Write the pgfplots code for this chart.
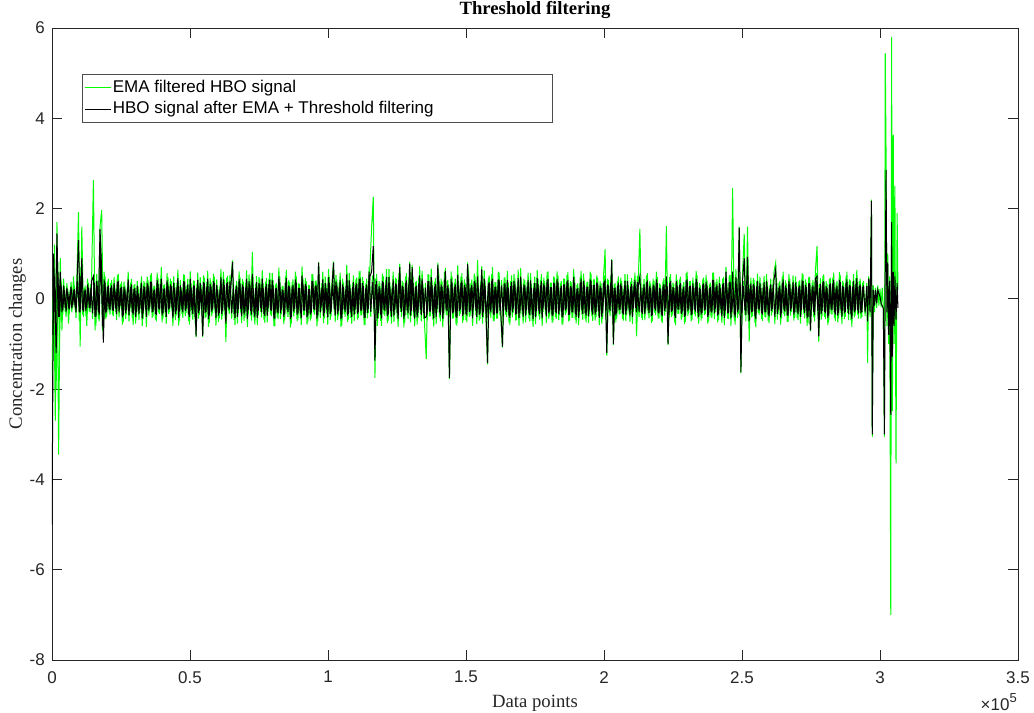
\documentclass[border=0pt]{standalone}
\usepackage{pgfplots}
\usepackage{pgfplotstable}
\pgfplotsset{compat=1.18}
\usepackage{fontspec}
\setmainfont{Liberation Sans}
\newfontfamily\seriffont{Liberation Serif}
\definecolor{mgreen}{rgb}{0,1,0}
\definecolor{axgray}{rgb}{0.15,0.15,0.15}

\pgfplotstableread{
g b
-1.70 -5.00
0.60 1.00
-2.70 -0.60
1.70 1.45
-3.45 -0.40
0.90 0.60
-0.70 -0.30
0.45 0.30
-0.30 -0.20
0.35 0.25
-0.55 -0.15
0.20 0.14
-0.30 -0.21
0.50 0.20
-0.25 -0.18
0.40 0.28
1.92 1.30
-1.06 -0.30
1.60 0.90
-0.40 -0.28
0.30 0.21
-0.60 -0.20
0.35 0.25
-0.30 -0.21
0.60 0.40
2.63 0.50
-0.70 -0.40
0.55 0.40
-0.45 -0.30
1.60 1.55
1.97 0.60
-0.80 -0.97
0.50 0.36
-0.40 -0.28
0.45 0.30
-0.35 -0.25
0.42 0.30
-0.38 -0.27
0.25 0.18
-0.47 -0.34
0.55 0.40
-0.22 -0.16
0.38 0.27
-0.52 -0.37
0.30 0.22
-0.35 -0.25
0.60 0.43
-0.28 -0.20
0.44 0.32
-0.58 -0.35
0.33 0.24
-0.41 -0.30
0.27 0.12
-0.30 -0.22
0.50 0.36
-0.45 -0.32
0.36 0.26
-0.62 -0.40
0.41 0.30
-0.25 -0.18
0.57 0.38
-0.39 -0.28
0.29 0.21
-0.50 -0.36
0.46 0.33
-0.33 -0.24
0.70 0.45
-0.44 -0.32
0.32 0.23
-0.55 -0.40
0.48 0.30
-0.29 -0.21
0.39 0.28
-0.60 -0.43
0.35 0.25
-0.37 -0.27
0.64 0.46
-0.48 -0.28
0.26 0.19
-0.42 -0.30
0.53 0.38
-0.31 -0.22
0.45 0.32
-0.57 -0.40
0.34 0.24
-0.46 -0.33
0.40 0.29
-0.85 -0.83
0.58 0.42
-0.36 -0.26
0.31 0.22
-0.84 -0.82
0.47 0.34
-0.40 -0.29
0.62 0.45
-0.53 -0.37
0.37 0.27
-0.32 -0.23
0.49 0.35
-0.59 -0.42
0.28 0.20
-0.43 -0.31
0.66 0.48
-0.38 -0.27
0.43 0.31
-0.95 -0.55
0.51 0.37
-0.34 -0.24
0.36 0.26
0.85 0.82
-0.47 -0.34
0.30 0.22
-0.55 -0.40
0.61 0.44
-0.30 -0.22
0.44 0.32
-0.49 -0.35
0.35 0.25
-0.62 -0.45
0.54 0.39
-0.37 -0.27
1.04 0.55
-0.43 -0.31
0.33 0.24
-0.58 -0.42
0.48 0.35
-0.28 -0.20
0.63 0.45
-0.46 -0.33
0.38 0.27
-0.52 -0.37
0.45 0.32
-0.35 -0.25
0.57 0.41
-0.60 -0.43
0.32 0.23
-0.41 -0.30
0.69 0.50
-0.45 -0.32
0.29 0.21
-0.56 -0.40
0.50 0.36
-0.33 -0.24
0.42 0.30
-0.63 -0.45
0.37 0.27
-0.39 -0.28
0.60 0.43
-0.50 -0.36
0.34 0.24
-0.44 -0.32
0.72 0.52
-0.36 -0.26
0.46 0.33
-0.57 -0.41
0.31 0.22
-0.48 -0.35
0.55 0.40
-0.30 -0.22
0.40 0.29
-0.61 -0.44
0.82 0.80
-0.42 -0.30
0.35 0.25
-0.54 -0.39
0.49 0.35
-0.34 -0.24
0.66 0.48
-0.47 -0.34
0.30 0.22
0.83 0.80
-0.51 -0.37
0.43 0.31
-0.37 -0.27
0.58 0.42
-0.59 -0.42
0.36 0.26
-0.40 -0.29
0.75 0.54
-0.46 -0.33
0.32 0.23
-0.55 -0.40
0.52 0.37
-0.33 -0.24
0.47 0.34
-0.42 -0.30
0.62 0.45
-0.36 -0.26
0.39 0.28
-0.58 -0.42
0.45 0.32
-0.31 -0.22
0.70 0.50
1.57 0.60
2.26 1.17
-1.75 -1.37
0.55 0.40
-0.44 -0.32
0.34 0.24
-0.60 -0.43
0.51 0.37
-0.38 -0.27
0.66 0.48
-0.49 -0.35
0.37 0.27
-0.55 -0.40
0.60 0.43
-0.33 -0.24
0.44 0.32
-0.62 -0.45
0.78 0.70
-0.40 -0.29
0.36 0.26
-0.52 -0.37
0.57 0.41
-0.45 -0.32
0.82 0.78
-0.37 -0.27
0.48 0.35
-0.61 -0.44
0.40 0.29
-0.43 -0.31
0.72 0.52
-0.50 -0.36
0.33 0.24
-0.58 -0.42
-1.33 -0.40
0.54 0.39
-0.39 -0.28
0.67 0.48
-0.46 -0.33
0.38 0.27
-0.56 -0.40
0.80 0.76
-0.41 -0.30
0.45 0.32
-0.63 -0.45
0.59 0.42
-0.35 -0.25
0.42 0.30
-1.78 -1.75
0.61 0.44
-0.44 -0.32
0.36 0.26
-0.57 -0.41
0.74 0.53
-0.38 -0.27
0.50 0.36
-0.53 -0.38
0.43 0.31
-0.47 -0.34
0.81 0.77
-0.40 -0.29
0.35 0.25
-0.60 -0.43
0.56 0.40
-0.36 -0.26
0.86 0.50
-0.48 -0.35
0.41 0.30
-0.55 -0.40
0.63 0.45
-0.34 -0.24
-1.45 -1.42
0.52 0.37
-0.42 -0.30
0.70 0.45
-0.50 -0.36
0.37 0.27
-0.44 -0.32
0.58 0.42
-0.39 -0.28
-1.08 -1.06
0.46 0.33
-0.35 -0.25
0.62 0.42
-0.54 -0.39
0.39 0.28
-0.41 -0.30
0.55 0.40
-0.48 -0.35
0.33 0.24
-0.59 -0.42
0.68 0.49
-0.37 -0.27
0.44 0.32
-0.52 -0.37
0.38 0.27
-0.43 -0.31
0.57 0.41
-0.49 -0.35
0.35 0.25
-0.56 -0.40
0.64 0.46
-0.38 -0.27
0.42 0.30
-0.60 -0.43
0.47 0.34
-0.34 -0.24
0.59 0.42
-0.45 -0.32
0.36 0.26
-0.53 -0.38
0.50 0.36
-0.40 -0.29
0.61 0.44
-0.47 -0.34
0.34 0.24
-0.57 -0.41
0.45 0.32
-0.36 -0.26
0.53 0.38
-0.50 -0.36
0.39 0.28
-0.42 -0.30
0.66 0.48
-0.46 -0.33
0.31 0.22
-0.58 -0.42
0.48 0.35
-0.35 -0.25
0.56 0.40
-0.44 -0.32
0.37 0.27
-0.54 -0.39
0.60 0.43
-0.39 -0.28
0.43 0.31
-0.48 -0.35
0.52 0.37
-0.37 -0.27
0.40 0.29
-0.55 -0.40
0.46 0.33
1.10 0.40
-1.26 -1.20
0.42 0.30
-0.38 -0.27
0.88 0.86
-1.02 -1.00
0.35 0.25
-0.44 -0.32
0.50 0.36
-0.33 -0.24
0.39 0.28
-0.48 -0.35
0.55 0.40
-0.36 -0.26
0.31 0.22
-0.51 -0.37
0.46 0.33
-0.29 -0.21
0.58 0.42
-0.83 -0.30
0.37 0.27
1.55 0.50
-0.42 -0.30
0.33 0.24
-0.47 -0.34
0.52 0.37
-0.35 -0.25
0.40 0.29
-0.53 -0.38
0.45 0.32
-0.31 -0.22
0.60 0.43
-0.44 -0.32
0.34 0.24
-0.49 -0.35
0.41 0.30
-0.37 -0.27
1.61 0.50
-1.02 -1.00
0.48 0.35
-0.40 -0.29
0.36 0.26
-0.52 -0.37
0.54 0.39
-0.33 -0.24
0.43 0.31
-0.46 -0.33
0.30 0.22
-0.56 -0.40
0.57 0.41
-0.38 -0.27
0.39 0.28
-0.50 -0.36
0.47 0.34
-0.34 -0.24
0.62 0.45
-0.43 -0.31
0.35 0.25
-0.48 -0.35
0.44 0.32
-0.36 -0.26
0.53 0.38
-0.55 -0.40
0.32 0.23
-0.41 -0.30
0.58 0.42
-0.45 -0.32
0.38 0.27
-0.52 -0.37
0.49 0.35
-0.32 -0.23
0.45 0.32
-0.58 -0.42
0.70 0.60
-0.44 -0.32
0.52 0.37
-0.60 -0.43
2.45 0.60
-0.48 -0.35
0.66 0.48
-0.42 -0.30
1.60 1.57
-1.65 -1.63
0.55 0.40
1.44 0.90
-0.50 -0.36
1.60 0.93
-0.95 -0.50
0.47 0.34
-0.39 -0.28
0.42 0.30
-0.63 -0.45
0.56 0.40
-0.36 -0.26
0.34 0.24
-0.49 -0.35
0.51 0.37
-0.41 -0.30
0.37 0.27
-0.54 -0.39
0.44 0.32
-0.30 -0.22
0.60 0.43
0.80 0.65
-0.46 -0.33
0.35 0.25
-0.57 -0.41
0.48 0.35
-0.33 -0.24
0.41 0.30
-0.51 -0.37
0.55 0.40
-0.37 -0.27
0.31 0.22
-0.48 -0.35
0.50 0.36
-0.42 -0.30
0.38 0.27
-0.55 -0.40
0.57 0.41
-0.34 -0.24
0.43 0.31
-0.60 -0.43
0.49 0.35
-0.72 -0.70
0.36 0.26
-0.40 -0.29
0.62 0.45
1.17 0.50
-0.95 -0.83
0.46 0.33
-0.38 -0.27
0.54 0.39
-0.45 -0.32
0.33 0.24
-0.52 -0.37
0.47 0.34
-0.35 -0.25
0.58 0.42
-0.49 -0.35
0.40 0.29
-0.43 -0.31
0.52 0.37
-0.56 -0.40
0.36 0.26
-0.40 -0.29
0.60 0.43
-0.47 -0.34
0.42 0.30
-0.62 -0.45
0.55 0.40
-0.37 -0.27
0.64 0.46
-0.44 -0.32
0.45 0.32
-0.40 -0.29
}\mainband

\pgfplotstableread{
g b
-1.20 -0.80
1.20 0.50
-2.00 -1.20
0.80 0.60
-0.90 -0.40
0.40 0.30
-0.35 -0.25
0.28 0.20
-0.40 -0.28
0.22 0.16
-0.32 -0.23
0.38 0.27
-0.20 -0.14
0.30 0.22
-0.42 -0.30
0.55 0.40
-0.50 -0.30
0.70 0.50
-0.35 -0.25
0.25 0.18
-0.38 -0.27
0.45 0.32
-0.28 -0.20
0.33 0.24
-0.45 -0.32
0.50 0.36
-0.60 -0.40
0.40 0.29
-0.50 -0.36
1.20 1.00
-0.70 -0.60
0.60 0.43
-0.45 -0.32
0.38 0.27
-0.30 -0.22
0.35 0.25
-0.35 -0.25
0.48 0.35
-0.29 -0.21
0.52 0.37
-0.41 -0.30
0.33 0.24
-0.57 -0.41
0.38 0.27
-0.45 -0.32
0.27 0.19
-0.50 -0.36
0.36 0.26
-0.43 -0.31
0.31 0.22
-0.55 -0.40
0.40 0.29
-0.47 -0.34
0.34 0.24
-0.60 -0.43
0.39 0.28
-0.30 -0.22
0.49 0.35
-0.37 -0.27
0.53 0.38
-0.42 -0.30
0.28 0.20
-0.46 -0.33
0.58 0.42
-0.32 -0.23
0.44 0.32
-0.52 -0.37
0.31 0.22
-0.40 -0.29
0.57 0.41
-0.34 -0.24
0.45 0.32
-0.28 -0.20
0.50 0.36
-0.47 -0.34
0.36 0.26
-0.59 -0.42
0.42 0.30
-0.33 -0.24
0.54 0.39
-0.38 -0.27
0.29 0.21
-0.49 -0.35
0.61 0.44
-0.35 -0.25
0.41 0.30
-0.56 -0.40
0.33 0.24
-0.44 -0.32
0.48 0.35
-0.30 -0.22
0.52 0.37
-0.43 -0.31
0.37 0.27
-0.62 -0.45
0.46 0.33
-0.39 -0.28
0.56 0.40
-0.32 -0.23
0.43 0.31
-0.51 -0.37
0.30 0.22
-0.46 -0.33
0.60 0.43
-0.36 -0.26
0.47 0.34
-0.27 -0.19
0.53 0.38
-0.44 -0.32
0.35 0.25
-0.58 -0.42
0.40 0.29
-0.31 -0.22
0.49 0.35
-0.54 -0.39
0.38 0.27
-0.42 -0.30
0.63 0.45
-0.34 -0.24
0.44 0.32
-0.48 -0.35
0.32 0.23
-0.57 -0.41
0.51 0.37
-0.37 -0.27
0.45 0.32
-0.41 -0.30
0.34 0.24
-0.53 -0.38
0.46 0.33
-0.29 -0.21
0.58 0.42
-0.38 -0.27
0.42 0.30
-0.61 -0.44
0.35 0.25
-0.45 -0.32
0.51 0.37
-0.33 -0.24
0.28 0.20
-0.48 -0.35
0.64 0.46
-0.40 -0.29
0.37 0.27
-0.55 -0.40
0.43 0.31
-0.31 -0.22
0.50 0.36
-0.46 -0.33
0.33 0.24
-0.58 -0.42
0.47 0.34
-0.36 -0.26
0.40 0.29
-0.52 -0.37
0.30 0.22
-0.44 -0.32
0.55 0.40
-0.35 -0.25
0.41 0.30
-0.50 -0.36
0.36 0.26
-0.27 -0.19
0.60 0.43
-0.43 -0.31
0.32 0.23
-0.57 -0.41
0.48 0.35
-0.39 -0.28
0.44 0.32
-0.30 -0.22
0.53 0.38
-0.47 -0.34
0.38 0.27
-0.62 -0.45
0.45 0.32
-0.34 -0.24
0.29 0.21
-0.51 -0.37
0.57 0.41
-0.42 -0.30
0.36 0.26
-0.49 -0.35
0.43 0.31
-0.46 -0.33
0.61 0.44
-0.37 -0.27
0.48 0.35
-0.58 -0.42
0.34 0.24
-0.43 -0.31
0.70 0.60
-0.40 -0.29
0.52 0.37
-0.31 -0.22
0.45 0.32
-0.60 -0.43
0.39 0.28
-0.49 -0.35
0.56 0.40
-0.35 -0.25
0.42 0.30
-0.54 -0.39
0.66 0.48
-0.38 -0.27
0.33 0.24
-0.51 -0.37
0.47 0.34
-0.44 -0.32
0.58 0.42
-0.29 -0.21
0.40 0.29
-0.63 -0.45
0.50 0.36
-0.36 -0.26
0.44 0.32
-0.52 -0.37
0.75 0.70
-0.41 -0.30
0.37 0.27
-0.57 -0.41
0.49 0.35
-0.33 -0.24
0.62 0.45
-0.45 -0.32
0.35 0.25
-0.48 -0.35
0.54 0.39
-0.39 -0.28
0.41 0.30
-0.61 -0.44
0.46 0.33
-0.30 -0.22
0.59 0.42
-0.50 -0.36
0.38 0.27
-0.43 -0.31
0.68 0.62
-0.37 -0.27
0.32 0.23
-0.55 -0.40
0.51 0.37
-0.42 -0.30
0.45 0.32
-0.59 -0.42
0.40 0.29
-0.34 -0.24
0.57 0.41
-0.47 -0.34
0.36 0.26
-0.52 -0.37
0.63 0.45
-0.38 -0.27
0.43 0.31
-0.28 -0.20
0.50 0.36
-0.56 -0.40
0.34 0.24
-0.45 -0.32
0.72 0.65
-0.41 -0.30
0.39 0.28
-0.60 -0.43
0.47 0.34
-0.33 -0.24
0.55 0.40
-0.49 -0.35
0.37 0.27
-0.44 -0.32
0.60 0.43
-0.36 -0.26
0.42 0.30
-0.53 -0.38
0.48 0.35
-0.40 -0.29
0.35 0.25
-0.58 -0.42
0.52 0.37
-0.31 -0.22
0.46 0.33
-0.47 -0.34
0.64 0.46
-0.43 -0.31
0.38 0.27
-0.55 -0.40
0.41 0.30
-0.35 -0.25
0.58 0.42
-0.50 -0.36
0.33 0.24
-0.62 -0.45
0.49 0.35
-0.38 -0.27
0.44 0.32
-0.46 -0.33
0.55 0.40
-0.29 -0.21
0.40 0.29
-0.54 -0.39
0.61 0.44
-0.39 -0.28
0.36 0.26
-0.51 -0.37
0.47 0.34
-0.44 -0.32
0.53 0.38
-0.36 -0.26
0.40 0.29
-0.57 -0.41
0.45 0.32
-0.32 -0.23
0.59 0.42
-0.48 -0.35
0.37 0.27
-0.42 -0.30
0.50 0.36
-0.55 -0.40
0.34 0.24
-0.39 -0.28
0.62 0.45
-0.46 -0.33
0.41 0.30
-0.52 -0.37
0.38 0.27
-0.34 -0.24
0.56 0.40
-0.49 -0.35
0.43 0.31
-0.40 -0.29
0.47 0.34
-0.58 -0.42
0.35 0.25
-0.45 -0.32
0.52 0.37
-0.38 -0.27
0.45 0.32
-0.30 -0.22
0.50 0.36
-0.42 -0.30
0.33 0.24
-0.52 -0.37
0.40 0.29
-0.35 -0.25
0.47 0.34
-0.45 -0.32
0.29 0.21
-0.49 -0.35
0.54 0.39
-0.33 -0.24
0.38 0.27
-0.56 -0.40
0.43 0.31
-0.28 -0.20
0.51 0.37
-0.40 -0.29
0.36 0.26
-0.47 -0.34
0.44 0.32
-0.31 -0.22
0.57 0.41
-0.43 -0.31
0.34 0.24
-0.50 -0.36
0.41 0.30
-0.36 -0.26
0.48 0.35
-0.44 -0.32
0.31 0.22
-0.53 -0.38
0.46 0.33
-0.29 -0.21
0.39 0.28
-0.48 -0.35
0.55 0.40
-0.37 -0.27
0.33 0.24
-0.58 -0.42
0.42 0.30
-0.34 -0.24
0.49 0.35
-0.41 -0.30
0.37 0.27
-0.51 -0.37
0.60 0.43
-0.32 -0.23
0.40 0.29
-0.46 -0.33
0.35 0.25
-0.39 -0.28
0.52 0.37
-0.55 -0.40
0.30 0.22
-0.43 -0.31
0.47 0.34
-0.34 -0.24
0.41 0.30
-0.50 -0.36
0.36 0.26
-0.42 -0.30
0.58 0.42
-0.30 -0.22
0.44 0.32
-0.47 -0.34
0.33 0.24
-0.54 -0.39
0.48 0.35
-0.38 -0.27
0.35 0.25
-0.45 -0.32
0.53 0.38
-0.40 -0.29
0.29 0.21
-0.57 -0.41
0.45 0.32
-0.33 -0.24
0.50 0.36
-0.44 -0.32
0.39 0.28
-0.36 -0.26
0.56 0.40
-0.49 -0.35
0.32 0.23
-0.41 -0.30
0.46 0.33
-0.53 -0.38
0.38 0.27
-0.31 -0.22
0.49 0.35
-0.45 -0.32
0.35 0.25
-0.40 -0.29
0.55 0.40
-0.48 -0.35
0.30 0.22
-0.37 -0.27
0.43 0.31
-0.56 -0.40
0.47 0.34
-0.33 -0.24
0.40 0.29
-0.44 -0.32
0.60 0.43
-0.39 -0.28
0.34 0.24
-0.51 -0.37
0.45 0.32
-0.29 -0.21
0.52 0.37
-0.42 -0.30
0.37 0.27
-0.47 -0.34
0.41 0.30
-0.35 -0.25
0.54 0.39
-0.43 -0.31
0.36 0.26
-0.55 -0.40
0.48 0.35
-0.32 -0.23
0.42 0.30
-0.50 -0.36
0.57 0.41
-0.37 -0.27
0.33 0.24
-0.46 -0.33
0.51 0.37
-0.40 -0.29
0.39 0.28
-0.58 -0.42
0.44 0.32
-0.34 -0.24
0.47 0.34
-0.42 -0.30
0.35 0.25
-0.52 -0.37
0.59 0.42
-0.36 -0.26
0.40 0.29
-0.45 -0.32
0.50 0.36
-0.31 -0.22
0.43 0.31
-0.48 -0.35
0.38 0.27
-0.41 -0.30
0.46 0.33
-0.35 -0.25
0.40 0.29
-0.44 -0.32
0.36 0.26
}\interband

\pgfplotstableread{
x g b
293400 -0.40 -0.29
294000 0.40 0.30
294600 -0.38 -0.30
295200 0.35 0.28
295500 -1.42 -0.50
295900 0.50 0.45
296400 -0.40 -0.30
296900 2.20 2.17
297200 -3.05 -3.00
297600 0.30 0.20
298000 -0.30 -0.15
298400 0.25 0.20
298800 -0.20 -0.10
299200 0.30 0.20
299600 -0.15 0.12
300000 0.22 0.05
300400 -0.18 -0.10
300800 0.25 -0.15
301200 -0.20 -0.22
301600 -3.05 -3.00
301900 5.44 0.60
302200 3.16 2.85
302500 -0.60 -0.30
302800 1.00 0.80
303100 -1.00 -0.80
303500 0.50 0.40
303900 -7.00 -2.57
304200 5.80 1.70
304500 -2.48 -1.28
304800 3.63 0.60
305100 -1.00 -0.60
305400 2.50 0.50
305800 -3.64 -0.46
306200 1.90 0.35
306500 0.20 -0.20
}\tailband

\begin{document}
\begin{tikzpicture}
\begin{axis}[
  at={(0,0)}, anchor=south west,
  scale only axis,
  width=966bp, height=632bp,
  xmin=0, xmax=350000, ymin=-8, ymax=6,
  scaled x ticks=false,
  xtick={0,50000,100000,150000,200000,250000,300000,350000},
  xticklabels={0,0.5,1,1.5,2,2.5,3,3.5},
  ytick={-8,-6,-4,-2,0,2,4,6},
  yticklabels={-8,-6,-4,-2,0,2,4,6},
  tick align=inside,
  major tick length=10bp,
  axis line style={axgray, line width=0.8bp},
  every tick/.style={axgray, line width=0.8bp},
  tick label style={font=\fontsize{17bp}{20bp}\selectfont, text=axgray},
  xticklabel style={inner sep=0pt, anchor=north, yshift=-11bp},
  yticklabel style={inner sep=0pt, anchor=east, xshift=-7bp},
  title={Threshold filtering},
  title style={font=\seriffont\bfseries\fontsize{18.7bp}{22bp}\selectfont, at={(rel axis cs:0.5,1)}, anchor=base, yshift=7.6bp, inner sep=0pt},
  xlabel={Data points},
  xlabel style={font=\seriffont\fontsize{18.7bp}{22bp}\selectfont, at={(rel axis cs:0.5,0)}, anchor=base, yshift=-47bp, inner sep=0pt, text=axgray},
  ylabel={Concentration changes},
  ylabel style={font=\seriffont\fontsize{18.7bp}{22bp}\selectfont, at={(rel axis cs:0,0.5)}, anchor=center, yshift=34.5bp, inner sep=0pt, text=axgray},
  legend cell align=left,
  legend image code/.code={\draw[#1] (0bp,0bp) -- (26bp,0bp);},
  legend style={at={(rel axis cs:0.0311,0.9272)}, anchor=north west,
    draw=black!70, line width=0.6bp, fill=white,
    inner xsep=2bp, inner ysep=4.5bp, row sep=3.5bp,
    font=\fontsize{17bp}{20bp}\selectfont,
    nodes={inner xsep=1.5bp, inner ysep=1bp, text height=12.5bp, text depth=3.5bp}},
  clip=true,
]
\addplot[mgreen, line width=1.0bp] table[x expr=\coordindex*600, y=g] {\mainband};
\addlegendentry{\makebox[436bp][l]{EMA filtered HBO signal}}
\addplot[mgreen, line width=1.0bp, forget plot] table[x expr=300+\coordindex*600, y=g] {\interband};
\addplot[mgreen, line width=1.0bp, forget plot] table[x=x, y=g] {\tailband};
\addplot[black, line width=1.0bp] table[x expr=\coordindex*600, y=b] {\mainband};
\addlegendentry{\makebox[436bp][l]{HBO signal after EMA + Threshold filtering}}
\addplot[black, line width=1.0bp, forget plot] table[x expr=300+\coordindex*600, y=b] {\interband};
\addplot[black, line width=1.0bp, forget plot] table[x=x, y=b] {\tailband};
\end{axis}
\node[anchor=base east, inner sep=0pt, font=\fontsize{17bp}{20bp}\selectfont, text=axgray] at (965bp,-50bp) {×10\raisebox{0.42em}{\fontsize{13bp}{13bp}\selectfont 5}};
\pgfresetboundingbox
\path[use as bounding box] (-52bp,-53bp) rectangle (982bp,660bp);
\end{tikzpicture}
\end{document}
